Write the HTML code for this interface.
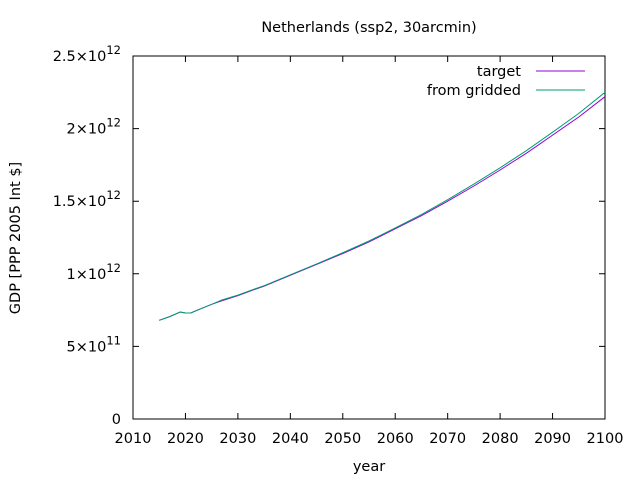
<!DOCTYPE html>
<html><head><meta charset="utf-8"><style>
body{margin:0;background:#fff;}
svg{display:block;font-family:"DejaVu Sans","Liberation Sans",sans-serif;}
</style></head><body>
<svg width="640" height="480" id="c">
<text x="369" y="32" font-size="14.5" text-anchor="middle">Netherlands (ssp2, 30arcmin)</text>
<rect x="133" y="56" width="472" height="363" fill="none" stroke="#000" stroke-width="1"/>
<text x="369" y="471" font-size="14.5" text-anchor="middle">year</text>
<text transform="translate(20,238) rotate(-90)" font-size="14.5" text-anchor="middle">GDP [PPP 2005 Int $]</text>
<g id="ticks"></g>
<g id="series"></g>
<g>
<text x="521" y="76" font-size="14.5" text-anchor="end">target</text>
<line x1="536" y1="71" x2="585" y2="71" stroke="#9400d3"/>
<text x="521" y="95" font-size="14.5" text-anchor="end">from gridded</text>
<line x1="536" y1="90" x2="585" y2="90" stroke="#009e73"/>
</g>
</svg>
<script>
const years=[2015,2017,2019,2020,2021,2023,2025,2027,2030,2033,2035,2040,2045,2050,2055,2060,2065,2070,2075,2080,2085,2090,2095,2100];
const targetVals=[0.68,0.705,0.737,0.73,0.73,0.76,0.79,0.815,0.85,0.89,0.915,0.99,1.065,1.14,1.22,1.31,1.40,1.50,1.605,1.715,1.83,1.955,2.08,2.22];
const griddedVals=[0.68,0.705,0.737,0.73,0.73,0.76,0.79,0.82,0.853,0.893,0.918,0.993,1.068,1.145,1.226,1.316,1.408,1.51,1.618,1.73,1.848,1.975,2.105,2.25];
const xTicks=[2010,2020,2030,2040,2050,2060,2070,2080,2090,2100];
const yTicks=[0,0.5,1,1.5,2,2.5];
const yLabels=["0","5x10^11","1x10^12","1.5x10^12","2x10^12","2.5x10^12"];
const NS="http://www.w3.org/2000/svg";
const X=v=>133+(v-2010)/90*472;
const Y=v=>419-v/2.5*363;
const tk=document.getElementById('ticks');
function mk(t,a,p){const e=document.createElementNS(NS,t);for(const k in a)e.setAttribute(k,a[k]);p.appendChild(e);return e;}
xTicks.forEach(v=>{const x=X(v);
 const l=mk('path',{d:`M${x},419v-6M${x},56v6`,stroke:'#000'},tk);
 
 
 const t=mk('text',{x:x,y:443,'font-size':14.5,'text-anchor':'middle'},tk);t.textContent=v;
 
 
});
yTicks.forEach((v,i)=>{const y=Y(v);
 const l=mk('path',{d:`M133,${y}h6M605,${y}h-6`,stroke:'#000'},tk);
 
 
 const t=mk('text',{x:121,y:y+5,'font-size':14.5,'text-anchor':'end'},tk);
 
 
 const s=yLabels[i];
 if(s.indexOf('^')<0){t.textContent=s;}else{const [m,e]=s.split('^');
  const a=document.createElementNS(NS,'tspan');a.textContent=m.replace('x','\u00d7');t.appendChild(a);
  const b=document.createElementNS(NS,'tspan');b.setAttribute('dy','-7');b.setAttribute('font-size','11.5');b.textContent=e;t.appendChild(b);}
});
const sg=document.getElementById('series');
function line(vals,col,name){const d=years.map((y,i)=>(i?'L':'M')+X(y).toFixed(1)+','+Y(vals[i]).toFixed(1)).join('');
 const p=mk('path',{d:d,fill:'none',stroke:col,'stroke-width':1},sg);
 
 }
line(targetVals,'#9400d3','target-line');
line(griddedVals,'#009e73','gridded-line');
</script>
</body></html>
